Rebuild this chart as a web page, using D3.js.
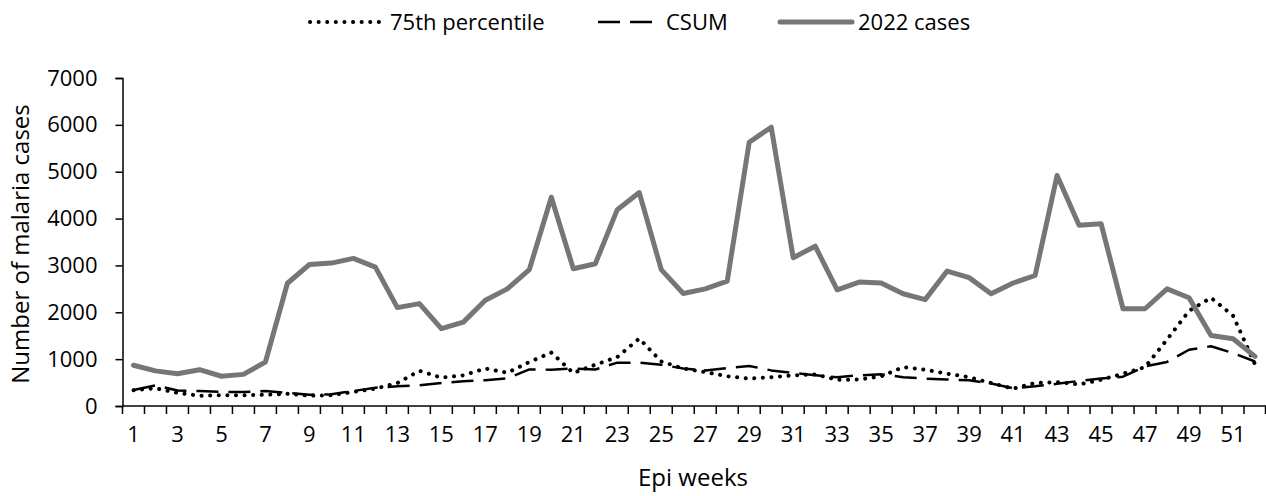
<!DOCTYPE html>
<html>
<head>
<meta charset="utf-8">
<script src="https://cdn.jsdelivr.net/npm/d3@7"></script>
<style>
  body { margin: 0; background: #fff; }
  text { font-family: "Open Sans", sans-serif; fill: #000; }
</style>
</head>
<body>
<div id="chart"></div>
<script>
// epi weeks 1..52
const weeks = d3.range(1, 53);
const cases2022 = [870, 750, 690, 775, 635, 675, 940, 2620, 3020, 3050, 3150, 2965, 2100, 2185, 1650, 1790, 2255, 2500, 2910, 4455,
  2930, 3035, 4190, 4555, 2910, 2400, 2500, 2665, 5630, 5950, 3165, 3410, 2480, 2645, 2625, 2395, 2270, 2880, 2740, 2395,
  2625, 2785, 4920, 3855, 3890, 2075, 2075, 2500, 2310, 1505, 1435, 1060];
const p75 = [335, 380, 280, 220, 230, 230, 240, 260, 220, 230, 300, 370, 490, 750, 605, 655, 800, 710, 940, 1140,
  705, 880, 1045, 1440, 950, 800, 725, 635, 585, 615, 655, 675, 560, 565, 635, 830, 775, 690, 615, 490,
  370, 490, 510, 460, 560, 690, 830, 1420, 2030, 2310, 1930, 890];
const csum = [340, 440, 330, 320, 300, 300, 320, 280, 240, 250, 320, 390, 420, 440, 490, 530, 550, 590, 780, 775,
  800, 780, 925, 925, 880, 800, 760, 810, 855, 760, 705, 655, 615, 655, 675, 615, 585, 565, 548, 480,
  380, 420, 475, 535, 585, 625, 845, 940, 1200, 1275, 1130, 950];
const yTicks = [0, 1000, 2000, 3000, 4000, 5000, 6000, 7000];

const width = 1266, height = 496;
const margin = {left: 122.5, right: 0, top: 78, bottom: 90};

const svg = d3.select('#chart').append('svg')
  .attr('width', width)
  .attr('height', height);

const x = d3.scaleBand()
  .domain(weeks)
  .range([margin.left, width - margin.right]);

const y = d3.scaleLinear()
  .domain([0, 7000])
  .range([height - margin.bottom, margin.top]);

const bw = x.bandwidth();

// y axis
const yAxis = svg.append('g')
  .attr('transform', `translate(${margin.left},0)`)
  .call(d3.axisLeft(y).tickValues(yTicks).tickSize(7).tickPadding(18).tickFormat(d3.format('d')));
yAxis.selectAll('text').style('font-size', '22px');
yAxis.selectAll('line, path').attr('stroke', '#000').attr('stroke-width', 1.5);

// x axis, ticks between categories
const xAxis = svg.append('g')
  .attr('transform', `translate(0,${y(0)})`)
  .call(d3.axisBottom(x).tickSize(8).tickPadding(12).tickFormat(d => d % 2 ? d : ''));
xAxis.selectAll('.tick line').attr('x1', -bw / 2).attr('x2', -bw / 2);
xAxis.select('.domain').attr('d', `M${margin.left},0H${width}`);
xAxis.append('line')
  .attr('x1', width - 0.5).attr('x2', width - 0.5)
  .attr('y1', 0).attr('y2', 8);
xAxis.selectAll('line, path').attr('stroke', '#000').attr('stroke-width', 1.5);
xAxis.selectAll('text').style('font-size', '22px');

// axis titles
svg.append('text')
  .attr('x', 693).attr('y', 486)
  .attr('text-anchor', 'middle')
  .style('font-size', '24px')
  .text('Epi weeks');

svg.append('text')
  .attr('transform', `translate(29,${(y(0) + y(7000)) / 2 + 2}) rotate(-90)`)
  .attr('text-anchor', 'middle')
  .style('font-size', '24px')
  .text('Number of malaria cases');

const line = d3.line()
  .x((d, i) => x(weeks[i]) + bw / 2)
  .y(d => y(d));

const series = [
  {name: '75th percentile', data: p75, color: '#000', w: 4, dash: '0.1,8.5', cap: 'round'},
  {name: 'CSUM', data: csum, color: '#000', w: 2.5, dash: '22,10', cap: 'butt'},
  {name: '2022 cases', data: cases2022, color: '#767676', w: 5, dash: null, cap: 'round'}
];

series.forEach(s => {
  svg.append('path')
    .datum(s.data)
    .attr('fill', 'none')
    .attr('stroke', s.color)
    .attr('stroke-width', s.w)
    .attr('stroke-dasharray', s.dash)
    .attr('stroke-linecap', s.cap)
    .attr('stroke-linejoin', 'round')
    .attr('d', line);
});

// legend
const legendX = [310, 598, 780];
const legendW = [74, 62, 72];
const legend = svg.selectAll('.legend')
  .data(series)
  .enter()
  .append('g')
  .attr('class', 'legend')
  .attr('transform', (d, i) => `translate(${legendX[i]},22)`);

legend.append('line')
  .attr('x1', 0)
  .attr('x2', (d, i) => legendW[i])
  .attr('stroke', d => d.color)
  .attr('stroke-width', d => d.w)
  .attr('stroke-dasharray', d => d.dash)
  .attr('stroke-linecap', d => d.cap);

legend.append('text')
  .attr('x', (d, i) => legendW[i] + 6)
  .attr('dy', '0.35em')
  .style('font-size', '22px')
  .text(d => d.name);
</script>
</body>
</html>
